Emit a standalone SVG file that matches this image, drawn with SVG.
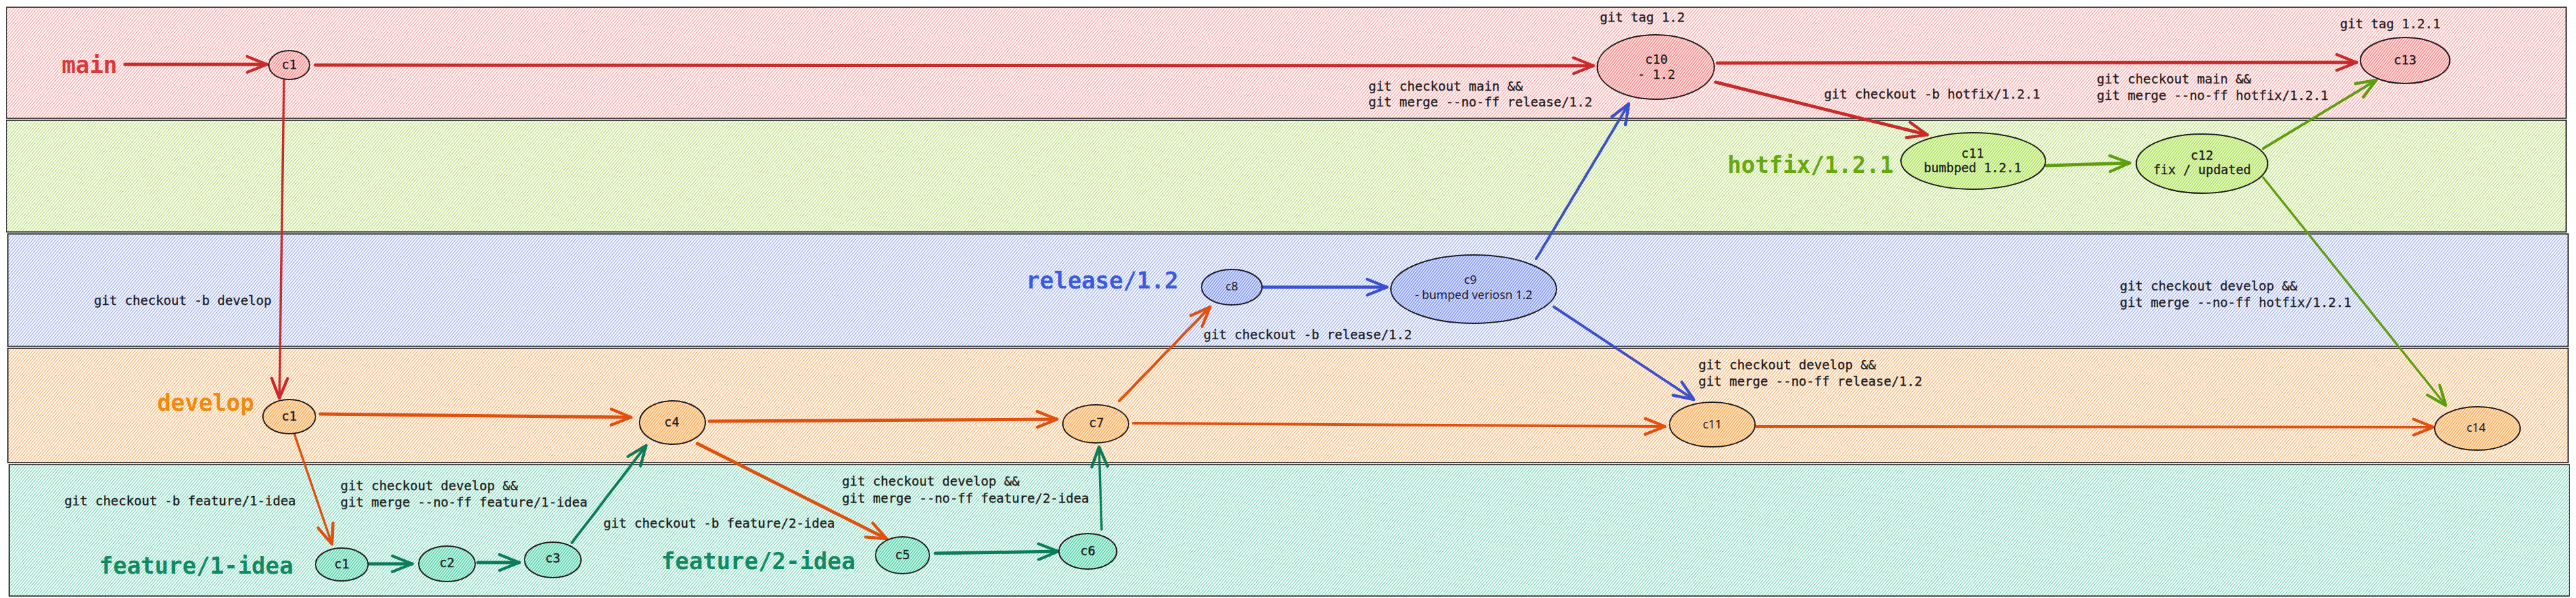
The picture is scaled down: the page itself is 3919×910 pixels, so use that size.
<svg xmlns="http://www.w3.org/2000/svg" width="3919" height="910" viewBox="0 0 3919 910">
<defs>
<style>
.lane{stroke:#1e1e1e;stroke-width:1.6}
.node{stroke:#1e1e1e;stroke-width:2}
.t{font-family:"DejaVu Sans Mono","Liberation Mono",monospace;font-size:19.5px;fill:#1e1e1e;stroke:#1e1e1e;stroke-width:0.35}
.tc{font-family:"DejaVu Sans Mono","Liberation Mono",monospace;font-size:19px;fill:#1e1e1e;stroke:#1e1e1e;stroke-width:0.35;text-anchor:middle}
.th{font-family:"Noto Sans","Liberation Sans",sans-serif;font-size:18px;fill:#1e1e1e;text-anchor:middle}
.big{font-family:"DejaVu Sans Mono","Liberation Mono",monospace;font-size:35px;font-weight:bold}
.c{fill:none;stroke-linecap:round}
.red{stroke:#c92a2a}.org{stroke:#e0500f}.teal{stroke:#0b7d5a}.blue{stroke:#3b50cc}.grn{stroke:#5f9e0e}
</style>
<pattern id="hMain" width="3.4" height="10" patternUnits="userSpaceOnUse" patternTransform="rotate(40)"><rect width="3.4" height="10" fill="#fff"/><line x1="0.6" y1="0" x2="0.6" y2="10" stroke="#ff9a9a" stroke-width="1.2"/></pattern>
<pattern id="hHot" width="3.4" height="10" patternUnits="userSpaceOnUse" patternTransform="rotate(40)"><rect width="3.4" height="10" fill="#fff"/><line x1="0.6" y1="0" x2="0.6" y2="10" stroke="#b2dd6a" stroke-width="1.2"/></pattern>
<pattern id="hRel" width="3.4" height="10" patternUnits="userSpaceOnUse" patternTransform="rotate(40)"><rect width="3.4" height="10" fill="#fff"/><line x1="0.6" y1="0" x2="0.6" y2="10" stroke="#95a8f5" stroke-width="1.2"/></pattern>
<pattern id="hDev" width="3.4" height="10" patternUnits="userSpaceOnUse" patternTransform="rotate(40)"><rect width="3.4" height="10" fill="#fff"/><line x1="0.6" y1="0" x2="0.6" y2="10" stroke="#ffac60" stroke-width="1.2"/></pattern>
<pattern id="hFea" width="3.4" height="10" patternUnits="userSpaceOnUse" patternTransform="rotate(40)"><rect width="3.4" height="10" fill="#fff"/><line x1="0.6" y1="0" x2="0.6" y2="10" stroke="#6fd6b4" stroke-width="1.2"/></pattern>
<pattern id="nMain" width="3.2" height="10" patternUnits="userSpaceOnUse" patternTransform="rotate(38)"><rect width="3.2" height="10" fill="#ffe8e8"/><line x1="0.8" y1="0" x2="0.8" y2="10" stroke="#ff8787" stroke-width="1.5"/></pattern>
<pattern id="nHot" width="3.2" height="10" patternUnits="userSpaceOnUse" patternTransform="rotate(38)"><rect width="3.2" height="10" fill="#eef9dc"/><line x1="0.8" y1="0" x2="0.8" y2="10" stroke="#a9e34b" stroke-width="1.5"/></pattern>
<pattern id="nRel" width="3.2" height="10" patternUnits="userSpaceOnUse" patternTransform="rotate(38)"><rect width="3.2" height="10" fill="#e3e8ff"/><line x1="0.8" y1="0" x2="0.8" y2="10" stroke="#7d95fc" stroke-width="1.5"/></pattern>
<pattern id="nDev" width="3.2" height="10" patternUnits="userSpaceOnUse" patternTransform="rotate(38)"><rect width="3.2" height="10" fill="#ffebd6"/><line x1="0.8" y1="0" x2="0.8" y2="10" stroke="#ffa94d" stroke-width="1.5"/></pattern>
<pattern id="nFea" width="3.2" height="10" patternUnits="userSpaceOnUse" patternTransform="rotate(38)"><rect width="3.2" height="10" fill="#d8f8ed"/><line x1="0.8" y1="0" x2="0.8" y2="10" stroke="#4fd1a8" stroke-width="1.5"/></pattern>
<marker id="aRed" viewBox="-34 -15 38 30" markerWidth="38" markerHeight="30" refX="0" refY="0" orient="auto" markerUnits="userSpaceOnUse"><path d="M-30,-12 L0,0 L-30,12" fill="none" stroke="#c92a2a" stroke-width="4.5" stroke-linecap="round" stroke-linejoin="round"/></marker>
<marker id="aOrg" viewBox="-34 -15 38 30" markerWidth="38" markerHeight="30" refX="0" refY="0" orient="auto" markerUnits="userSpaceOnUse"><path d="M-30,-12 L0,0 L-30,12" fill="none" stroke="#e0500f" stroke-width="4.5" stroke-linecap="round" stroke-linejoin="round"/></marker>
<marker id="aTeal" viewBox="-34 -15 38 30" markerWidth="38" markerHeight="30" refX="0" refY="0" orient="auto" markerUnits="userSpaceOnUse"><path d="M-30,-12 L0,0 L-30,12" fill="none" stroke="#0b7d5a" stroke-width="4.5" stroke-linecap="round" stroke-linejoin="round"/></marker>
<marker id="aBlue" viewBox="-34 -15 38 30" markerWidth="38" markerHeight="30" refX="0" refY="0" orient="auto" markerUnits="userSpaceOnUse"><path d="M-30,-12 L0,0 L-30,12" fill="none" stroke="#3b50cc" stroke-width="4.5" stroke-linecap="round" stroke-linejoin="round"/></marker>
<marker id="aGrn" viewBox="-34 -15 38 30" markerWidth="38" markerHeight="30" refX="0" refY="0" orient="auto" markerUnits="userSpaceOnUse"><path d="M-30,-12 L0,0 L-30,12" fill="none" stroke="#5f9e0e" stroke-width="4.5" stroke-linecap="round" stroke-linejoin="round"/></marker>
</defs>
<rect width="3919" height="910" fill="#fff"/>

<g id="lanes">
<g id="lane-main"><rect class="lane" x="10" y="11" width="3894" height="169" fill="url(#hMain)"/><text class="big" x="94" y="111" fill="#d9383a">main</text></g>
<g id="lane-hotfix"><rect class="lane" x="10" y="183" width="3894" height="170" fill="url(#hHot)"/><text class="big" x="2628" y="263" fill="#66a80f">hotfix/1.2.1</text></g>
<g id="lane-release"><rect class="lane" x="12" y="356" width="3895" height="171" fill="url(#hRel)"/><text class="big" x="1561" y="439" fill="#3b5bdb">release/1.2</text></g>
<g id="lane-develop"><rect class="lane" x="12" y="530" width="3895" height="174" fill="url(#hDev)"/><text class="big" x="239" y="625" fill="#ee8a10">develop</text></g>
<g id="lane-feature"><rect class="lane" x="14" y="707" width="3895" height="200" fill="url(#hFea)"/><text class="big" x="151" y="873" fill="#0f8a62">feature/1-idea</text><text class="big" x="1006" y="866" fill="#0f8a62">feature/2-idea</text></g>
</g>

<g id="connectors">
<path class="c red" stroke-width="5" d="M190,98 L406,98" marker-end="url(#aRed)"/>
<path class="c red" stroke-width="5" d="M480,99 L2424,100" marker-end="url(#aRed)"/>
<path class="c red" stroke-width="5" d="M2613,96 L3585,95" marker-end="url(#aRed)"/>
<path class="c red" stroke-width="5" d="M2610,125 L2932,205" marker-end="url(#aRed)"/>
<path class="c red" stroke-width="3.5" d="M432,122 L425,606" marker-end="url(#aRed)"/>
<path class="c org" stroke-width="5" d="M487,630 L960,635" marker-end="url(#aOrg)"/>
<path class="c org" stroke-width="3.5" d="M448,661 L505,828" marker-end="url(#aOrg)"/>
<path class="c teal" stroke-width="5" d="M562,858 L627,858" marker-end="url(#aTeal)"/>
<path class="c teal" stroke-width="5" d="M727,856 L790,856" marker-end="url(#aTeal)"/>
<path class="c teal" stroke-width="4" d="M870,826 L983,678" marker-end="url(#aTeal)"/>
<path class="c org" stroke-width="5" d="M1079,641 L1608,638" marker-end="url(#aOrg)"/>
<path class="c org" stroke-width="5" d="M1061,675 L1349,820" marker-end="url(#aOrg)"/>
<path class="c teal" stroke-width="5" d="M1423,842 L1610,839" marker-end="url(#aTeal)"/>
<path class="c teal" stroke-width="3.5" d="M1676,806 L1672,680" marker-end="url(#aTeal)"/>
<path class="c org" stroke-width="4" d="M1724,644 L2533,649" marker-end="url(#aOrg)"/>
<path class="c org" stroke-width="4" d="M1703,610 L1841,467" marker-end="url(#aOrg)"/>
<path class="c blue" stroke-width="5" d="M1922,437 L2110,437" marker-end="url(#aBlue)"/>
<path class="c blue" stroke-width="4" d="M2337,394 L2478,158" marker-end="url(#aBlue)"/>
<path class="c blue" stroke-width="4" d="M2364,467 L2577,608" marker-end="url(#aBlue)"/>
<path class="c org" stroke-width="4" d="M2672,649 L3702,650" marker-end="url(#aOrg)"/>
<path class="c grn" stroke-width="5" d="M3113,252 L3240,248" marker-end="url(#aGrn)"/>
<path class="c grn" stroke-width="4" d="M3443,226 L3615,122" marker-end="url(#aGrn)"/>
<path class="c grn" stroke-width="3.5" d="M3443,270 L3721,617" marker-end="url(#aGrn)"/>
</g>

<g id="labels">
<text class="t" x="2434" y="33">git tag 1.2</text>
<text class="t" x="2082" y="138">git checkout main &amp;&amp;</text>
<text class="t" x="2082" y="162">git merge --no-ff release/1.2</text>
<text class="t" x="2775" y="150">git checkout -b hotfix/1.2.1</text>
<text class="t" x="3560" y="43">git tag 1.2.1</text>
<text class="t" x="3190" y="127">git checkout main &amp;&amp;</text>
<text class="t" x="3190" y="152">git merge --no-ff hotfix/1.2.1</text>
<text class="t" x="143" y="464">git checkout -b develop</text>
<text class="t" x="98" y="769">git checkout -b feature/1-idea</text>
<text class="t" x="518" y="746">git checkout develop &amp;&amp;</text>
<text class="t" x="518" y="771">git merge --no-ff feature/1-idea</text>
<text class="t" x="918" y="803">git checkout -b feature/2-idea</text>
<text class="t" x="1281" y="739">git checkout develop &amp;&amp;</text>
<text class="t" x="1281" y="765">git merge --no-ff feature/2-idea</text>
<text class="t" x="1831" y="516">git checkout -b release/1.2</text>
<text class="t" x="2584" y="562">git checkout develop &amp;&amp;</text>
<text class="t" x="2584" y="587">git merge --no-ff release/1.2</text>
<text class="t" x="3225" y="442">git checkout develop &amp;&amp;</text>
<text class="t" x="3225" y="467">git merge --no-ff hotfix/1.2.1</text>
</g>

<g id="n-main-c1"><ellipse class="node" cx="440" cy="99" rx="31" ry="22" fill="url(#nMain)"/><text class="tc" x="440" y="105">c1</text></g>
<g id="n-c10"><ellipse class="node" cx="2519" cy="102" rx="89" ry="49" fill="url(#nMain)"/><text class="tc" x="2520" y="97">c10</text><text class="tc" x="2520" y="120">- 1.2</text></g>
<g id="n-c13"><ellipse class="node" cx="3659" cy="92" rx="68" ry="35" fill="url(#nMain)"/><text class="tc" x="3659" y="98">c13</text></g>
<g id="n-hotfix-c11"><ellipse class="node" cx="3002" cy="245" rx="110" ry="43" fill="url(#nHot)"/><text class="tc" x="3001" y="240">c11</text><text class="tc" x="3001" y="262">bumbped 1.2.1</text></g>
<g id="n-c12"><ellipse class="node" cx="3350" cy="249" rx="100" ry="45" fill="url(#nHot)"/><text class="tc" x="3350" y="243">c12</text><text class="tc" x="3350" y="265">fix / updated</text></g>
<g id="n-c8"><ellipse class="node" cx="1874" cy="437" rx="46" ry="27" fill="url(#nRel)"/><text class="th" x="1874" y="442">c8</text></g>
<g id="n-c9"><ellipse class="node" cx="2242" cy="440" rx="126" ry="52" fill="url(#nRel)"/><text class="th" x="2237" y="432">c9</text><text class="th" x="2242" y="455">- bumped veriosn 1.2</text></g>
<g id="n-dev-c1"><ellipse class="node" cx="440" cy="634" rx="40" ry="26" fill="url(#nDev)"/><text class="tc" x="440" y="640">c1</text></g>
<g id="n-c4"><ellipse class="node" cx="1023" cy="643" rx="50" ry="33" fill="url(#nDev)"/><text class="tc" x="1022" y="649">c4</text></g>
<g id="n-c7"><ellipse class="node" cx="1667" cy="645" rx="50" ry="29" fill="url(#nDev)"/><text class="tc" x="1668" y="650">c7</text></g>
<g id="n-dev-c11"><ellipse class="node" cx="2605" cy="646" rx="65" ry="34" fill="url(#nDev)"/><text class="th" x="2605" y="652">c11</text></g>
<g id="n-c14"><ellipse class="node" cx="3769" cy="652" rx="65" ry="33" fill="url(#nDev)"/><text class="th" x="3767" y="657">c14</text></g>
<g id="n-fea-c1"><ellipse class="node" cx="520" cy="859" rx="40" ry="25" fill="url(#nFea)"/><text class="tc" x="520" y="865">c1</text></g>
<g id="n-c2"><ellipse class="node" cx="680" cy="858" rx="43" ry="27" fill="url(#nFea)"/><text class="tc" x="680" y="863">c2</text></g>
<g id="n-c3"><ellipse class="node" cx="841" cy="852" rx="43" ry="27" fill="url(#nFea)"/><text class="tc" x="841" y="856">c3</text></g>
<g id="n-c5"><ellipse class="node" cx="1373" cy="845" rx="41" ry="28" fill="url(#nFea)"/><text class="tc" x="1373" y="851">c5</text></g>
<g id="n-c6"><ellipse class="node" cx="1655" cy="839" rx="44" ry="27" fill="url(#nFea)"/><text class="tc" x="1655" y="845">c6</text></g>
</svg>
